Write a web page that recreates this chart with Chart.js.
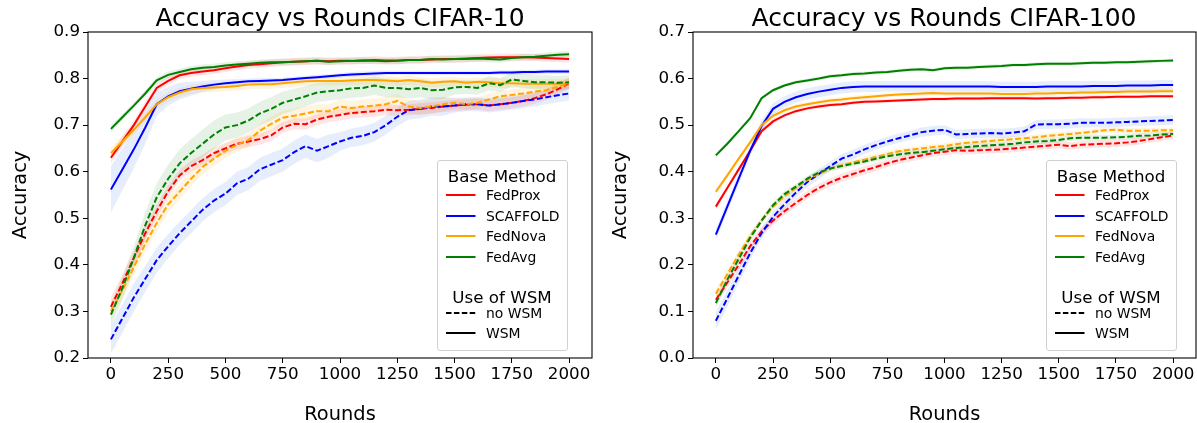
<!DOCTYPE html>
<html>
<head>
<meta charset="utf-8">
<script src="https://cdn.jsdelivr.net/npm/chart.js@4/dist/chart.umd.min.js"></script>
<style>
  html, body { margin:0; padding:0; background:#fff; }
  body { width:1197px; height:423px; position:relative; overflow:hidden; font-family:'DejaVu Sans', sans-serif; color:#000; }
  .cw { position:absolute; top:0; }
  .title { position:absolute; top:5px; font-size:25px; line-height:25px; white-space:nowrap; transform:translateX(-50%); }
  .legend { position:absolute; border:1px solid #d0d0d0; border-radius:3px; background:rgba(255,255,255,0.8); box-sizing:border-box; }
  .lt { position:absolute; font-size:16.7px; line-height:20px; white-space:nowrap; transform:translateX(-50%); }
  .le { position:absolute; font-size:13.9px; line-height:18px; white-space:nowrap; }
  .ls { position:absolute; }
</style>
</head>
<body>
<div class="cw" style="left:0;width:600px;height:423px"><canvas id="c10" width="600" height="423"></canvas></div>
<div class="cw" style="left:600px;width:597px;height:423px"><canvas id="c100" width="597" height="423"></canvas></div>
<div class="title" style="left:340px">Accuracy vs Rounds CIFAR-10</div>
<div class="title" style="left:944px">Accuracy vs Rounds CIFAR-100</div>
<div id="leg10" class="legend" style="left:437px;top:160px;width:131px;height:191px"></div>
<div id="leg100" class="legend" style="left:1046px;top:160px;width:131px;height:191px"></div>
<script>
// ---------------- data ----------------
const rounds = [0,50,100,150,200,250,300,350,400,450,
  500,550,600,650,700,750,800,850,900,950,
  1000,1050,1100,1150,1200,1250,1300,1350,1400,1450,
  1500,1550,1600,1650,1700,1750,1800,1850,1900,1950,2000];

const xTicks = [0,250,500,750,1000,1250,1500,1750,2000];
const xTickLabels = ['0','250','500','750','1000','1250','1500','1750','2000'];
const yTicks10 = [0.2,0.3,0.4,0.5,0.6,0.7,0.8,0.9];
const yTickLabels10 = ['0.2','0.3','0.4','0.5','0.6','0.7','0.8','0.9'];
const yTicks100 = [0.0,0.1,0.2,0.3,0.4,0.5,0.6,0.7];
const yTickLabels100 = ['0.0','0.1','0.2','0.3','0.4','0.5','0.6','0.7'];

const methods = ['FedProx','SCAFFOLD','FedNova','FedAvg'];
const wsmLabels = ['no WSM','WSM'];

// CIFAR-10, WSM (solid)
const proxW10 = [.630,.665,.700,.740,.780,.795,.807,.812,.815,.818,
 .822,.826,.829,.831,.833,.835,.836,.837,.838,.837,
 .838,.838,.839,.840,.839,.839,.840,.840,.841,.842,
 .842,.843,.844,.845,.846,.846,.846,.845,.844,.843,.842];
const scafW10 = [.562,.605,.648,.695,.745,.762,.773,.778,.783,.787,
 .790,.792,.794,.795,.796,.797,.799,.801,.803,.805,
 .807,.809,.810,.811,.812,.812,.812,.812,.812,.812,
 .812,.812,.812,.812,.813,.813,.814,.814,.815,.815,.815];
const novaW10 = [.640,.665,.690,.717,.745,.760,.770,.777,.780,.781,
 .782,.784,.787,.788,.788,.790,.792,.794,.795,.795,
 .795,.796,.797,.797,.796,.794,.797,.794,.791,.793,
 .794,.791,.793,.792,.790,.790,.789,.789,.789,.789,.790];
const avgW10 = [.692,.717,.742,.768,.796,.808,.814,.820,.823,.825,
 .828,.830,.832,.834,.835,.835,.836,.837,.838,.836,
 .837,.838,.839,.838,.837,.838,.840,.840,.842,.841,
 .842,.842,.843,.842,.841,.844,.846,.847,.849,.851,.852];
// CIFAR-10, no WSM (dashed)
const proxN10 = [.310,.360,.415,.468,.515,.558,.592,.612,.625,.640,
 .650,.660,.665,.670,.678,.695,.703,.702,.712,.718,
 .722,.726,.728,.730,.733,.732,.733,.735,.737,.740,
 .742,.744,.745,.742,.745,.748,.752,.758,.766,.777,.790];
const scafN10 = [.240,.285,.330,.370,.410,.440,.468,.493,.518,.538,
 .553,.575,.585,.605,.615,.625,.642,.655,.645,.655,
 .665,.673,.677,.685,.700,.718,.732,.735,.740,.740,
 .742,.745,.745,.742,.745,.748,.752,.755,.760,.764,.768];
const novaN10 = [.300,.345,.395,.445,.490,.530,.557,.585,.610,.628,
 .645,.658,.668,.688,.703,.716,.720,.725,.730,.730,
 .740,.737,.740,.742,.745,.752,.740,.737,.740,.745,
 .748,.745,.748,.755,.762,.765,.768,.772,.775,.782,.790];
const avgN10 = [.293,.350,.415,.485,.545,.585,.618,.640,.660,.680,
 .695,.700,.710,.725,.735,.748,.755,.762,.770,.773,
 .775,.779,.780,.785,.780,.780,.777,.780,.775,.776,
 .781,.782,.780,.790,.786,.798,.795,.792,.792,.791,.792];

// CIFAR-10 spread (half band width)
const sdProxW10 = [.012,.011,.010,.010,.009,.009,.008,.008,.008,.008,
 .008,.008,.008,.008,.008,.008,.008,.008,.008,.008,
 .008,.008,.008,.008,.008,.008,.008,.008,.008,.008,
 .008,.008,.008,.008,.008,.008,.008,.008,.008,.008,.008];
const sdScafW10 = [.050,.045,.040,.035,.025,.020,.018,.015,.012,.010,
 .008,.007,.006,.006,.005,.005,.005,.005,.005,.005,
 .005,.005,.005,.005,.005,.005,.005,.005,.005,.005,
 .005,.005,.005,.005,.005,.005,.005,.005,.005,.005,.005];
const sdNovaW10 = [.012,.011,.010,.010,.010,.010,.010,.010,.010,.010,
 .010,.010,.010,.010,.010,.010,.010,.010,.010,.010,
 .010,.010,.010,.010,.010,.010,.010,.010,.010,.010,
 .010,.010,.010,.010,.010,.010,.010,.010,.010,.010,.010];
const sdAvgW10 = [.008,.007,.007,.007,.007,.007,.007,.007,.007,.007,
 .007,.007,.007,.007,.007,.007,.007,.007,.007,.007,
 .007,.007,.007,.007,.007,.007,.007,.007,.007,.007,
 .007,.007,.007,.007,.007,.007,.007,.007,.007,.007,.007];
const sdProxN10 = [.020,.018,.016,.015,.014,.013,.012,.012,.012,.012,
 .012,.012,.012,.012,.012,.012,.012,.012,.012,.012,
 .012,.012,.012,.012,.012,.012,.012,.012,.012,.012,
 .012,.012,.012,.012,.012,.012,.012,.012,.012,.012,.012];
const sdScafN10 = [.030,.030,.030,.028,.027,.026,.025,.025,.025,.025,
 .025,.025,.025,.025,.025,.025,.025,.025,.025,.025,
 .020,.020,.020,.020,.020,.020,.020,.020,.020,.020,
 .015,.015,.015,.015,.015,.015,.015,.015,.015,.015,.015];
const sdNovaN10 = [.018,.018,.018,.018,.018,.017,.016,.016,.016,.016,
 .015,.015,.015,.015,.015,.015,.015,.015,.015,.015,
 .015,.015,.015,.015,.015,.015,.015,.015,.015,.015,
 .012,.012,.012,.012,.012,.012,.012,.012,.012,.012,.012];
const sdAvgN10 = [.025,.025,.025,.028,.030,.030,.030,.030,.030,.030,
 .028,.027,.026,.025,.025,.024,.023,.022,.021,.020,
 .020,.020,.020,.020,.020,.020,.020,.020,.020,.020,
 .015,.015,.015,.015,.015,.015,.015,.015,.015,.015,.015];

// CIFAR-100, WSM (solid)
const proxW100 = [.325,.365,.405,.445,.487,.508,.521,.530,.536,.540,
 .543,.545,.548,.550,.551,.552,.553,.554,.555,.556,
 .556,.557,.557,.557,.558,.558,.558,.558,.557,.558,
 .558,.559,.559,.560,.560,.561,.561,.561,.562,.562,.562];
const scafW100 = [.265,.325,.385,.445,.498,.535,.550,.560,.567,.572,
 .576,.580,.582,.583,.583,.583,.583,.583,.583,.583,
 .583,.583,.583,.583,.583,.582,.582,.582,.582,.583,
 .583,.583,.583,.584,.584,.584,.585,.585,.585,.586,.586];
const novaW100 = [.357,.392,.428,.463,.500,.520,.532,.540,.545,.549,
 .553,.555,.558,.560,.562,.564,.566,.567,.568,.569,
 .568,.568,.568,.568,.568,.567,.567,.567,.568,.568,
 .569,.569,.570,.570,.571,.571,.572,.572,.572,.573,.573];
const avgW100 = [.435,.460,.487,.515,.558,.575,.585,.592,.596,.600,
 .605,.607,.610,.611,.613,.614,.617,.619,.620,.618,
 .622,.623,.623,.625,.626,.627,.629,.629,.631,.632,
 .632,.632,.633,.634,.634,.635,.635,.636,.637,.638,.639];
// CIFAR-100, no WSM (dashed)
const proxN100 = [.125,.162,.200,.240,.272,.295,.315,.333,.350,.365,
 .377,.387,.395,.403,.410,.418,.425,.430,.435,.440,
 .443,.446,.445,.446,.447,.448,.450,.452,.454,.456,
 .458,.455,.458,.459,.460,.461,.463,.466,.470,.474,.478];
const scafN100 = [.080,.128,.177,.225,.268,.303,.330,.355,.378,.395,
 .412,.428,.437,.448,.457,.465,.472,.478,.485,.488,
 .490,.480,.481,.482,.483,.482,.484,.487,.501,.502,
 .502,.503,.505,.505,.505,.506,.507,.508,.509,.510,.511];
const novaN100 = [.138,.180,.222,.262,.295,.325,.347,.365,.382,.396,
 .406,.414,.420,.426,.432,.438,.444,.447,.450,.453,
 .455,.459,.462,.464,.466,.468,.470,.472,.474,.477,
 .479,.481,.483,.486,.489,.490,.488,.488,.488,.489,.489];
const avgN100 = [.118,.168,.213,.258,.295,.328,.352,.368,.385,.398,
 .407,.412,.417,.422,.428,.433,.437,.440,.442,.445,
 .448,.451,.453,.455,.457,.458,.460,.463,.465,.466,
 .468,.472,.473,.473,.473,.474,.475,.477,.478,.480,.481];

// CIFAR-100 spread
const sdProxW100 = [.006,.005,.005,.005,.005,.005,.004,.004,.004,.004,
 .004,.004,.004,.004,.004,.004,.004,.004,.004,.004,
 .004,.004,.004,.004,.004,.004,.004,.004,.004,.004,
 .004,.004,.004,.004,.004,.004,.004,.004,.004,.004,.004];
const sdScafW100 = [.012,.012,.012,.012,.012,.012,.012,.012,.012,.012,
 .012,.012,.012,.012,.012,.011,.011,.011,.011,.011,
 .011,.011,.011,.011,.011,.011,.011,.011,.011,.011,
 .011,.011,.011,.011,.011,.011,.011,.011,.011,.011,.011];
const sdNovaW100 = [.006,.006,.005,.005,.005,.005,.005,.005,.005,.005,
 .005,.005,.005,.005,.005,.005,.005,.005,.005,.005,
 .005,.005,.005,.005,.005,.005,.005,.005,.005,.005,
 .005,.005,.005,.005,.005,.005,.005,.005,.005,.005,.005];
const sdAvgW100 = [.005,.005,.004,.004,.004,.004,.004,.004,.004,.004,
 .004,.004,.004,.004,.004,.004,.004,.004,.004,.004,
 .004,.004,.004,.004,.004,.004,.004,.004,.004,.004,
 .004,.004,.004,.004,.004,.004,.004,.004,.004,.004,.004];
const sdProxN100 = [.012,.011,.010,.010,.009,.009,.009,.009,.009,.009,
 .009,.009,.009,.009,.009,.008,.008,.008,.008,.008,
 .008,.008,.008,.008,.008,.008,.008,.008,.008,.008,
 .008,.008,.008,.008,.008,.008,.008,.008,.008,.008,.008];
const sdScafN100 = [.020,.018,.016,.014,.012,.012,.011,.011,.011,.011,
 .010,.010,.010,.010,.010,.010,.010,.010,.010,.010,
 .010,.010,.010,.010,.010,.010,.010,.010,.010,.010,
 .010,.010,.010,.010,.010,.010,.010,.010,.010,.010,.010];
const sdNovaN100 = [.010,.009,.008,.008,.007,.007,.007,.006,.006,.006,
 .006,.006,.006,.006,.006,.006,.006,.006,.006,.006,
 .006,.006,.006,.006,.006,.006,.006,.006,.006,.006,
 .006,.006,.006,.006,.006,.006,.006,.006,.006,.006,.006];
const sdAvgN100 = [.010,.009,.008,.008,.007,.007,.007,.006,.006,.006,
 .006,.006,.006,.006,.006,.006,.006,.006,.006,.006,
 .006,.006,.006,.006,.006,.006,.006,.006,.006,.006,
 .006,.006,.006,.006,.006,.006,.006,.006,.006,.006,.006];

// ---------------- styles ----------------
const FONT = "'DejaVu Sans', sans-serif";
const lineColors = ['#ff0000', '#0000ff', '#ffa500', '#008000'];
const bandColors = ['rgba(255,0,0,0.10)', 'rgba(50,105,230,0.12)', 'rgba(255,165,0,0.12)', 'rgba(0,128,0,0.10)'];
const DASH = [6, 2.6];

function pts(vals) { return rounds.map((r, i) => ({ x: r, y: vals[i] })); }

function buildDatasets(noW, W, sdNoW, sdW) {
  const bands = [], lines = [];
  for (let m = 0; m < methods.length; m++) {
    [[noW[m], sdNoW[m], true], [W[m], sdW[m], false]].forEach(([mean, sd, dashed], k) => {
      bands.push({
        data: pts(mean.map((v, i) => v + sd[i])), fill: '+1', backgroundColor: bandColors[m],
        borderWidth: 0, pointRadius: 0, order: 100
      });
      bands.push({
        data: pts(mean.map((v, i) => v - sd[i])), fill: false,
        borderWidth: 0, pointRadius: 0, order: 100
      });
      lines.push({
        label: methods[m] + (dashed ? ' no WSM' : ' WSM'),
        data: pts(mean), borderColor: lineColors[m], borderWidth: 2,
        borderDash: dashed ? DASH : [], pointRadius: 0, fill: false, tension: 0,
        order: 50 - (m * 2 + k)
      });
    });
  }
  return bands.concat(lines);
}

const framePlugin = {
  id: 'frame',
  afterDraw(chart) {
    const { ctx, chartArea: a } = chart;
    ctx.save();
    ctx.strokeStyle = '#000';
    ctx.lineWidth = 1.1;
    ctx.strokeRect(a.left, a.top, a.right - a.left, a.bottom - a.top);
    ctx.restore();
  }
};

function makeChart(id, datasets, yTicks, yLabels, yMin, yMax, yWidth, padRight) {
  return new Chart(document.getElementById(id), {
    type: 'line',
    data: { datasets },
    options: {
      responsive: false, animation: false, devicePixelRatio: 1,
      layout: { padding: { top: 32, right: padRight, left: 0, bottom: 0 } },
      plugins: { legend: { display: false }, tooltip: { enabled: false }, title: { display: false },
                 filler: { drawTime: 'beforeDatasetsDraw' } },
      scales: {
        x: {
          type: 'linear', min: -100, max: 2100,
          afterBuildTicks: s => { s.ticks = xTicks.map(v => ({ value: v })); },
          afterFit: s => { s.height = 65; },
          grid: { display: true, drawOnChartArea: false, drawTicks: true, tickLength: 5, color: '#000', lineWidth: 1 },
          border: { display: false },
          ticks: { color: '#000', font: { family: FONT, size: 16.7 }, padding: 2, maxRotation: 0, autoSkip: false,
                   callback: (v, i) => xTickLabels[i] },
          title: { display: true, text: 'Rounds', color: '#000', font: { family: FONT, size: 19.4, lineHeight: 0.8 }, padding: { top: 0, bottom: 0 } }
        },
        y: {
          type: 'linear', min: yMin, max: yMax,
          afterBuildTicks: s => { s.ticks = yTicks.map(v => ({ value: v })); },
          afterFit: s => { s.width = yWidth; },
          grid: { display: true, drawOnChartArea: false, drawTicks: true, tickLength: 5, color: '#000', lineWidth: 1 },
          border: { display: false },
          ticks: { color: '#000', font: { family: FONT, size: 16.7 }, padding: 3, autoSkip: false,
                   callback: (v, i) => yLabels[i] },
          title: { display: true, text: 'Accuracy', color: '#000', font: { family: FONT, size: 19.4 }, padding: { top: 9, bottom: 0 } }
        }
      }
    },
    plugins: [framePlugin]
  });
}

makeChart('c10',
  buildDatasets([proxN10, scafN10, novaN10, avgN10], [proxW10, scafW10, novaW10, avgW10],
                [sdProxN10, sdScafN10, sdNovaN10, sdAvgN10], [sdProxW10, sdScafW10, sdNovaW10, sdAvgW10]),
  yTicks10, yTickLabels10, 0.2, 0.9, 88, 8);

makeChart('c100',
  buildDatasets([proxN100, scafN100, novaN100, avgN100], [proxW100, scafW100, novaW100, avgW100],
                [sdProxN100, sdScafN100, sdNovaN100, sdAvgN100], [sdProxW100, sdScafW100, sdNovaW100, sdAvgW100]),
  yTicks100, yTickLabels100, 0.0, 0.7, 93, 1);

// ---------------- legends ----------------
function sample(color, dashed) {
  const d = dashed ? ' stroke-dasharray="5.5 2.4"' : '';
  return '<svg width="30" height="4" style="display:block"><line x1="0" y1="2" x2="29.5" y2="2" stroke="' + color +
         '" stroke-width="2"' + d + '/></svg>';
}
function buildLegend(id) {
  const el = document.getElementById(id);
  let h = '<div class="lt" style="left:64px;top:5px">Base Method</div>';
  const ys = [34, 54.7, 75, 95.7];
  methods.forEach((m, i) => {
    h += '<div class="ls" style="left:8px;top:' + (ys[i] - 2) + 'px">' + sample(lineColors[i], false) + '</div>';
    h += '<div class="le" style="left:48px;top:' + (ys[i] - 9) + 'px">' + m + '</div>';
  });
  h += '<div class="lt" style="left:64px;top:126px">Use of WSM</div>';
  const ws = [152, 172];
  wsmLabels.forEach((w, i) => {
    h += '<div class="ls" style="left:8px;top:' + (ws[i] - 2) + 'px">' + sample('#000', i === 0) + '</div>';
    h += '<div class="le" style="left:48px;top:' + (ws[i] - 9) + 'px">' + w + '</div>';
  });
  el.innerHTML = h;
}
buildLegend('leg10');
buildLegend('leg100');
</script>
</body>
</html>
